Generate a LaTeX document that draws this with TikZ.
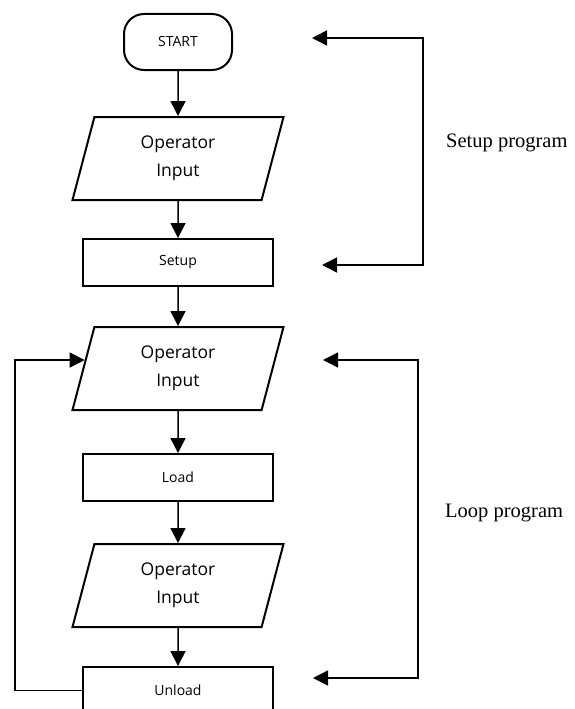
\documentclass[tikz,border=0pt]{standalone}
\usepackage{fontspec}
\setmainfont{Liberation Serif}
\setsansfont{Open Sans}
\usetikzlibrary{shapes.geometric, arrows.meta, positioning, calc}

\begin{document}
\begin{tikzpicture}[
    x=1pt, y=1pt,
    node distance=40pt,
    font=\sffamily\fontsize{14}{17}\selectfont,
    term/.style={rectangle, draw, line width=2pt, rounded corners=20pt, align=center, minimum width=108pt, minimum height=56pt, inner sep=0pt},
    proc/.style={rectangle, draw, line width=2pt, align=center, minimum width=190pt, minimum height=47pt, inner sep=0pt},
    io/.style={trapezium, trapezium left angle=64, trapezium right angle=116, trapezium stretches body, draw, line width=2pt, align=center, minimum width=211pt, minimum height=83pt, inner sep=0pt, font=\sffamily\fontsize{17.5}{28}\selectfont},
    arrow/.style={-{Triangle[length=15pt, width=15pt]}, line width=1.5pt},
    bracket/.style={{Triangle[length=15pt, width=15pt]}-{Triangle[length=15pt, width=15pt]}, line width=1.5pt},
    side/.style={font=\rmfamily\fontsize{20.5}{24}\selectfont, anchor=west, inner sep=0pt}
]
\useasboundingbox (0,0) rectangle (574,-709);

% Nodes
\node[term] (start) at (178,-42) {START};
\node[io, below=45pt of start] (opin1) {Operator\\Input};
\node[proc, below=37pt of opin1] (setup) {Setup};
\node[io, below=39pt of setup] (opin2) {Operator\\Input};
\node[proc, below=42pt of opin2] (load) {Load};
\node[io, below=41pt of load] (opin3) {Operator\\Input};
\node[proc, below=38pt of opin3] (unload) {Unload};

% Arrows
\draw[arrow] (start) -- (opin1);
\draw[arrow] (opin1) -- (setup);
\draw[arrow] (setup) -- (opin2);
\draw[arrow] (opin2) -- (load);
\draw[arrow] (load) -- (opin3);
\draw[arrow] (opin3) -- (unload);

% Loop back
\coordinate (loopin) at ($(opin2.bottom left corner)!0.6!(opin2.top left corner)$);
\draw[arrow] (unload.west) -- ++(-67,0) |- (loopin);

% Brackets
\coordinate (setupTop) at (312,-38);
\coordinate (setupBar) at (423,-265);
\coordinate (setupBot) at (322,-265);
\draw[bracket] (setupTop) -| (setupBar) -- (setupBot);
\node[side] (setupTxt) at (446,-143) {Setup program};

\coordinate (loopTop) at (323,-360);
\coordinate (loopBar) at (418,-678);
\coordinate (loopBot) at (313,-678);
\draw[bracket] (loopTop) -| (loopBar) -- (loopBot);
\node[side] (loopTxt) at (445,-513) {Loop program};

\end{tikzpicture}
\end{document}
